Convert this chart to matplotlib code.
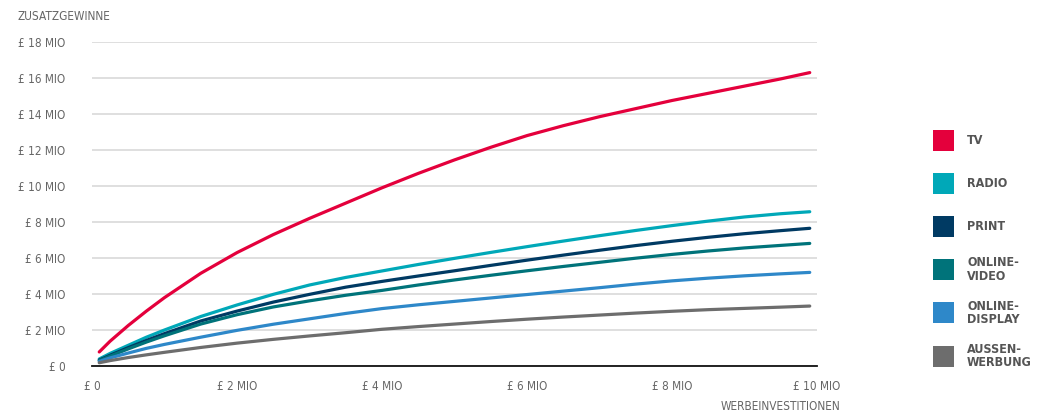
import matplotlib
matplotlib.use("Agg")
import matplotlib.pyplot as plt
from matplotlib.patches import Rectangle
from matplotlib import font_manager

# ---- data (Mio £) ----
invest  = [0.1, 0.25, 0.5, 0.75, 1, 1.5, 2, 2.5, 3, 3.5, 4, 4.5, 5, 5.5, 6, 6.5, 7, 7.5, 8, 8.5, 9, 9.5, 9.9]
tv      = [0.78, 1.38, 2.25, 3.05, 3.8, 5.15, 6.3, 7.3, 8.2, 9.05, 9.9, 10.7, 11.45, 12.15, 12.8, 13.35, 13.85, 14.3, 14.75, 15.15, 15.55, 15.95, 16.3]
radio   = [0.39, 0.7, 1.15, 1.6, 2.0, 2.75, 3.39, 3.98, 4.5, 4.92, 5.28, 5.64, 5.98, 6.31, 6.63, 6.94, 7.24, 7.53, 7.8, 8.05, 8.28, 8.46, 8.57]
prnt    = [0.33, 0.6, 1.02, 1.42, 1.8, 2.5, 3.05, 3.55, 3.98, 4.38, 4.7, 5.0, 5.29, 5.59, 5.88, 6.16, 6.43, 6.69, 6.93, 7.15, 7.35, 7.52, 7.65]
video   = [0.3, 0.55, 0.95, 1.33, 1.68, 2.33, 2.85, 3.28, 3.62, 3.93, 4.2, 4.5, 4.78, 5.04, 5.29, 5.53, 5.76, 5.99, 6.2, 6.39, 6.56, 6.7, 6.81]
display = [0.25, 0.45, 0.72, 0.98, 1.2, 1.6, 1.98, 2.32, 2.62, 2.92, 3.19, 3.4, 3.59, 3.78, 3.97, 4.16, 4.35, 4.55, 4.73, 4.88, 5.01, 5.12, 5.2]
aussen  = [0.18, 0.3, 0.47, 0.62, 0.76, 1.03, 1.27, 1.48, 1.67, 1.85, 2.04, 2.19, 2.33, 2.47, 2.6, 2.72, 2.83, 2.94, 3.04, 3.13, 3.2, 3.27, 3.33]

series_names = ["TV", "RADIO", "PRINT", "ONLINE-\nVIDEO", "ONLINE-\nDISPLAY", "AUSSEN-\nWERBUNG"]
series_values = [tv, radio, prnt, video, display, aussen]
colors = ["#e4003c", "#00a8b8", "#003a63", "#00737a", "#2e88c9", "#6d6d6d"]

yticks = [0, 2, 4, 6, 8, 10, 12, 14, 16, 18]
ytick_labels = ["£ 0"] + [f"£ {v} MIO" for v in yticks[1:]]
xticks = [0, 2, 4, 6, 8, 10]
xtick_labels = ["£ 0"] + [f"£ {v} MIO" for v in xticks[1:]]

# ---- font ----
names = {f.name for f in font_manager.fontManager.ttflist}
fam = "Liberation Sans Narrow" if "Liberation Sans Narrow" in names else "DejaVu Sans"
plt.rcParams["font.family"] = [fam, "DejaVu Sans"]
plt.rcParams["font.stretch"] = "condensed"
txt_col = "#666666"

fig = plt.figure(figsize=(10.4, 4.12), dpi=100)
ax = fig.add_axes([92 / 1040, (412 - 366) / 412, (817 - 92) / 1040, (366 - 42) / 412])

for vals, c in zip(series_values, colors):
    ax.plot(invest, vals, color=c, lw=2.3, solid_capstyle="round", solid_joinstyle="round", zorder=3)

ax.set_xlim(0, 10)
ax.set_ylim(0, 18)
ax.set_yticks(yticks)
ax.set_yticklabels(ytick_labels)
ax.set_xticks(xticks)
ax.set_xticklabels(xtick_labels)
ax.grid(axis="y", color="#d9d9d9", lw=1.2, zorder=0)
ax.grid(axis="x", visible=False)
for s in ["top", "right", "left"]:
    ax.spines[s].set_visible(False)
ax.spines["bottom"].set_color("#111111")
ax.spines["bottom"].set_linewidth(1.3)
ax.spines["bottom"].set_zorder(4)
ax.tick_params(axis="y", length=0, pad=19, labelsize=8.5, labelcolor=txt_col)
ax.tick_params(axis="x", length=0, pad=10, labelsize=8.5, labelcolor=txt_col)

fig.text(18 / 1040, 1 - 17 / 412, "ZUSATZGEWINNE", fontsize=8.5, color=txt_col, va="center", ha="left")
fig.text(840 / 1040, 1 - 406 / 412, "WERBEINVESTITIONEN", fontsize=8.5, color=txt_col, va="center", ha="right")

# ---- legend ----
lax = fig.add_axes([0, 0, 1, 1], facecolor="none")
lax.set_xlim(0, 1040)
lax.set_ylim(412, 0)
lax.axis("off")
y0, dy, sq = 140, 43.2, 21
for i, (name, c) in enumerate(zip(series_names, colors)):
    yc = y0 + i * dy
    lax.add_patch(Rectangle((933, yc - sq / 2), sq, sq, facecolor=c, edgecolor="none"))
    lax.text(967, yc, name, fontsize=9, color="#555555", va="center", ha="left",
             fontweight="bold", linespacing=1.05)

fig.savefig("out.png", dpi=100, facecolor="white")
